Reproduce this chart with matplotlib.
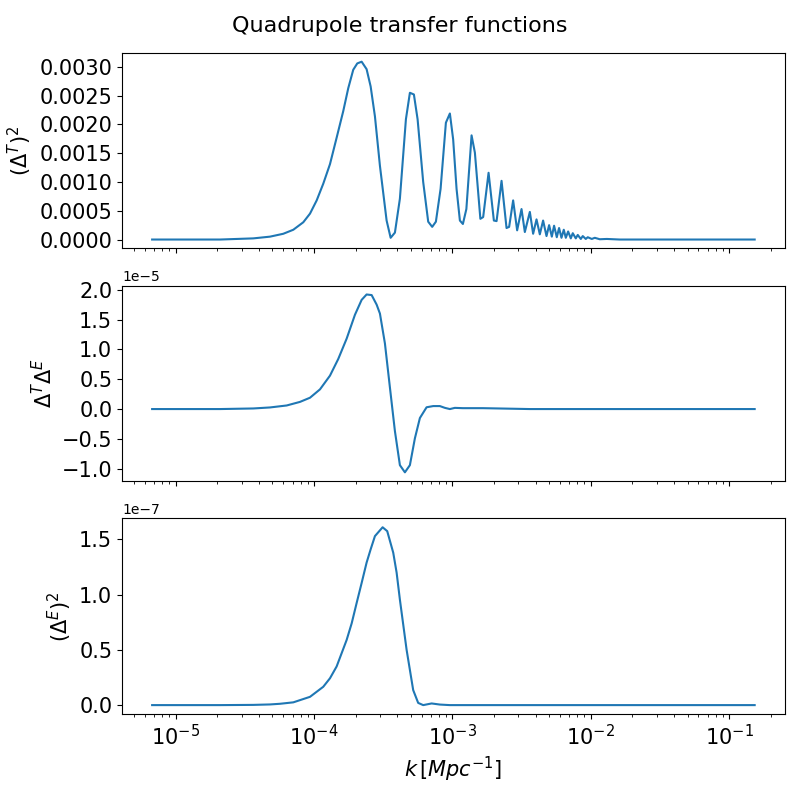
import matplotlib
matplotlib.use("Agg")
import matplotlib.pyplot as plt
from matplotlib.ticker import MultipleLocator

# k grid points (Mpc^-1) and transfer function values
k_tt = [6.77e-6, 2.097e-5, 3.645e-5, 4.81e-5, 6.00e-5, 7.09e-5, 8.37e-5, 9.36e-5,
        1.046e-4, 1.167e-4, 1.305e-4, 1.458e-4, 1.627e-4, 1.769e-4, 1.922e-4, 2.055e-4,
        2.21e-4, 2.40e-4, 2.567e-4, 2.757e-4,
        2.996e-4, 3.348e-4, 3.58e-4, 3.844e-4, 4.176e-4, 4.616e-4, 4.932e-4, 5.272e-4,
        5.606e-4, 6.153e-4, 6.688e-4, 7.147e-4, 7.60e-4, 8.218e-4, 8.977e-4, 9.592e-4,
        1.013e-3, 1.072e-3, 1.133e-3, 1.191e-3, 1.262e-3, 1.376e-3, 1.454e-3, 1.593e-3,
        1.669e-3, 1.826e-3, 1.994e-3, 2.086e-3, 2.266e-3, 2.462e-3, 2.571e-3, 2.748e-3,
        2.937e-3, 3.159e-3, 3.338e-3, 3.628e-3, 3.832e-3, 4.054e-3, 4.283e-3, 4.524e-3,
        4.787e-3, 5.00e-3, 5.23e-3, 5.43e-3, 5.68e-3, 5.90e-3, 6.14e-3, 6.38e-3,
        6.60e-3, 6.86e-3, 7.17e-3, 7.41e-3, 7.79e-3, 8.05e-3, 8.47e-3, 8.75e-3,
        9.20e-3, 9.51e-3, 1.017e-2, 1.069e-2, 1.161e-2, 1.305e-2, 1.62e-2, 0.1528]
tt = [0, 0, 2e-5, 5e-5, 1.0e-4, 1.7e-4, 3.0e-4, 4.5e-4,
      6.8e-4, 9.7e-4, 1.31e-3, 1.77e-3, 2.23e-3, 2.63e-3, 2.95e-3, 3.06e-3,
      3.09e-3, 2.96e-3, 2.66e-3, 2.14e-3,
      1.28e-3, 3.3e-4, 3e-5, 1.2e-4, 7.1e-4, 2.09e-3, 2.55e-3, 2.52e-3,
      2.09e-3, 1.0e-3, 3.1e-4, 2.2e-4, 3.1e-4, 8.8e-4, 2.03e-3, 2.19e-3,
      1.74e-3, 8.8e-4, 3.3e-4, 2.7e-4, 5.3e-4, 1.81e-3, 1.51e-3, 3.6e-4,
      3.9e-4, 1.16e-3, 3.3e-4, 3.2e-4, 1.02e-3, 2.0e-4, 2.2e-4, 6.8e-4,
      1.6e-4, 5.3e-4, 1.3e-4, 4.8e-4, 1.0e-4, 3.5e-4, 9e-5, 3.3e-4,
      6e-5, 2.5e-4, 5e-5, 2.4e-4, 4e-5, 2.0e-4, 3e-5, 1.7e-4,
      3e-5, 1.4e-4, 2e-5, 1.1e-4, 2e-5, 8e-5, 1e-5, 6e-5,
      1e-5, 4e-5, 1e-5, 3e-5, 5e-6, 1e-5, 0, 0]

k_te = [6.77e-6, 2.097e-5, 3.645e-5, 4.81e-5, 6.35e-5, 7.92e-5, 9.36e-5, 1.105e-4,
        1.305e-4, 1.498e-4, 1.722e-4, 1.977e-4, 2.21e-4, 2.40e-4, 2.61e-4, 2.836e-4,
        2.996e-4, 3.255e-4, 3.538e-4,
        3.844e-4, 4.176e-4, 4.539e-4, 4.932e-4, 5.36e-4, 5.825e-4, 6.51e-4, 7.27e-4,
        8.12e-4, 8.83e-4, 9.59e-4, 1.042e-3, 1.191e-3, 1.661e-3, 3.628e-3, 0.1528]
te = [0, 0, 0.01e-5, 0.027e-5, 0.06e-5, 0.12e-5, 0.19e-5, 0.33e-5,
      0.56e-5, 0.84e-5, 1.18e-5, 1.58e-5, 1.83e-5, 1.92e-5, 1.91e-5, 1.75e-5,
      1.60e-5, 1.10e-5, 0.36e-5,
      -0.37e-5, -0.94e-5, -1.06e-5, -0.94e-5, -0.49e-5, -0.15e-5, 0.03e-5, 0.05e-5,
      0.05e-5, 0.02e-5, 0.0, 0.02e-5, 0.015e-5, 0.015e-5, 0.0, 0.0]

k_ee = [6.77e-6, 2.097e-5, 3.645e-5, 4.81e-5, 5.68e-5, 7.09e-5, 9.36e-5, 1.167e-4,
        1.305e-4, 1.458e-4, 1.722e-4, 1.872e-4, 2.034e-4, 2.21e-4, 2.40e-4, 2.567e-4,
        2.757e-4, 3.133e-4, 3.382e-4, 3.738e-4, 3.954e-4, 4.176e-4, 4.413e-4, 4.67e-4,
        5.21e-4, 5.66e-4, 6.153e-4, 7.08e-4, 8.12e-4, 9.59e-4, 0.1528]
ee = [0, 0, 0.002e-7, 0.006e-7, 0.012e-7, 0.025e-7, 0.075e-7, 0.166e-7,
      0.243e-7, 0.35e-7, 0.59e-7, 0.74e-7, 0.925e-7, 1.106e-7, 1.29e-7, 1.41e-7,
      1.53e-7, 1.61e-7, 1.575e-7, 1.38e-7, 1.2e-7, 0.955e-7, 0.73e-7, 0.5e-7,
      0.136e-7, 0.02e-7, 0.0, 0.015e-7, 0.005e-7, 0.0, 0.0]

fig, axes = plt.subplots(3, 1, figsize=(8, 8), dpi=100, sharex=True)
fig.subplots_adjust(left=0.1525, right=0.981, top=0.934, bottom=0.1075, hspace=0.19)

axes[0].plot(k_tt, tt)
axes[0].set_ylabel(r'$(\Delta^T)^2$', fontsize=15)
axes[0].yaxis.set_major_locator(MultipleLocator(0.0005))
axes[1].plot(k_te, te)
axes[1].set_ylabel(r'$\Delta^T\Delta^E$', fontsize=15)
axes[1].yaxis.set_major_locator(MultipleLocator(0.5e-5))
axes[2].plot(k_ee, ee)
axes[2].set_ylabel(r'$(\Delta^E)^2$', fontsize=15)
axes[2].yaxis.set_major_locator(MultipleLocator(0.5e-7))
axes[2].set_xlabel(r'$k\,[Mpc^{-1}]$', fontsize=15)

for ax in axes:
    ax.set_xscale('log')
    ax.tick_params(labelsize=15)

fig.suptitle('Quadrupole transfer functions', fontsize=16)
fig.savefig('out.png')
